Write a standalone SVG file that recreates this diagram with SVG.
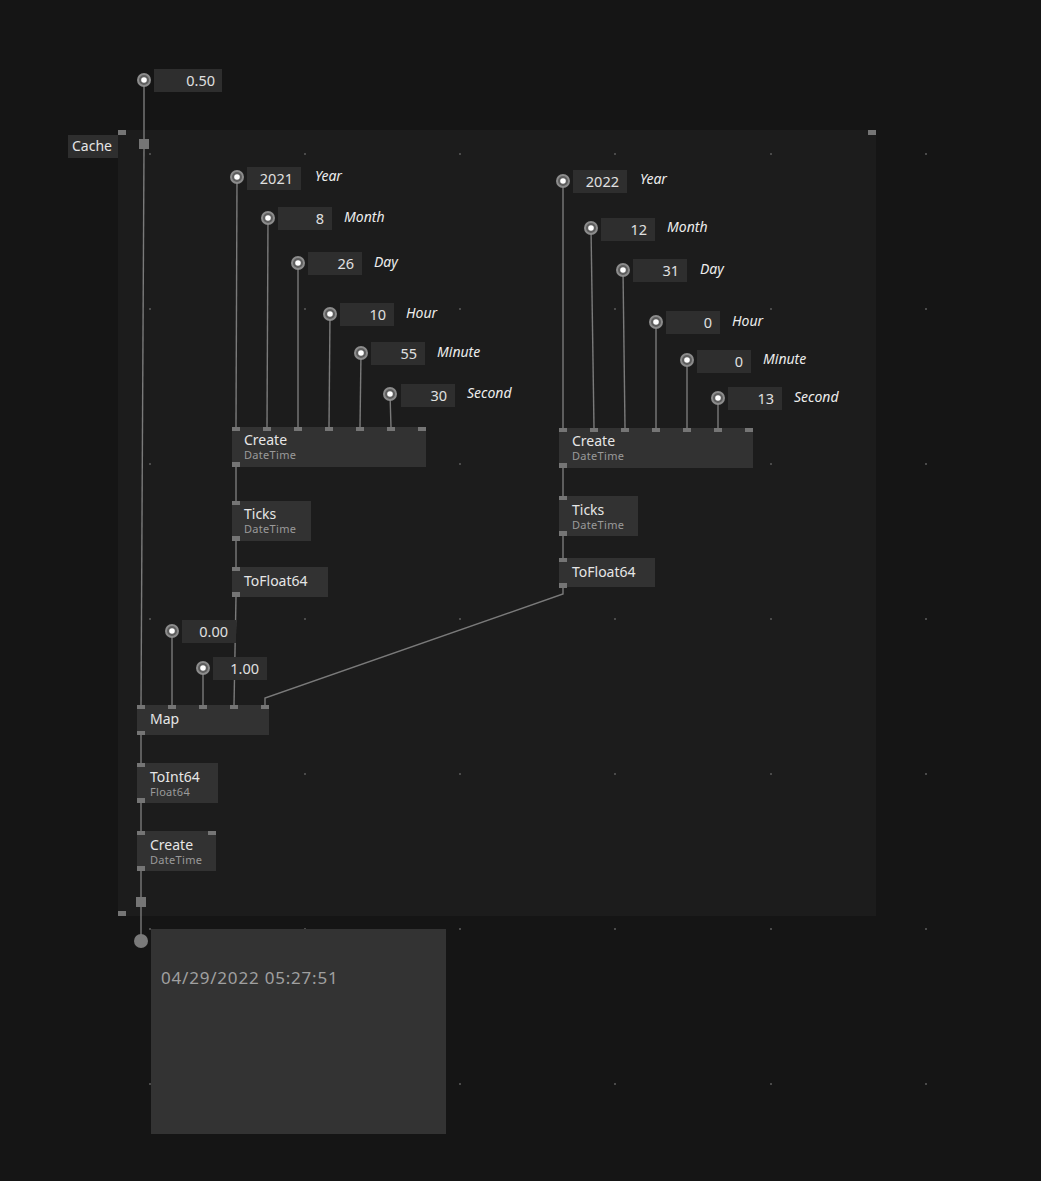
<svg xmlns="http://www.w3.org/2000/svg" width="1041" height="1181" viewBox="0 0 1041 1181">
<style>
.bg{fill:#151515}
.region{fill:#1c1c1c}
.dot{fill:#4a4a4a}
.node{fill:#323232}
.iob{fill:#2e2e2e}
.pin{fill:#757575}
.wire{fill:none;stroke:#7a7a7a;stroke-width:1.4}
.t{font-family:"Noto Sans","DejaVu Sans",sans-serif;font-size:14px;fill:#e6e6e6}
.sub{font-family:"Noto Sans","DejaVu Sans",sans-serif;font-size:11px;fill:#9a9a9a;letter-spacing:0.3px}
.val{font-family:"Noto Sans","DejaVu Sans",sans-serif;font-size:14.5px;fill:#e0e0e0;text-anchor:end}
.lbl{font-family:"Noto Sans","DejaVu Sans",sans-serif;font-size:14px;font-style:italic;fill:#ececec}
.out{font-family:"Noto Sans","DejaVu Sans",sans-serif;font-size:17px;fill:#a0a0a0;letter-spacing:0.8px}
.ring{fill:#5e5e5e;stroke:#8c8c8c;stroke-width:2}
.core{fill:#ffffff}
</style>
<defs>
<g id="cpin"><circle r="6" class="ring"/><circle r="2.8" class="core"/></g>
</defs>
<rect class="bg" x="0" y="0" width="1041" height="1181"/>
<g id="cache-region">
<rect class="region" x="118" y="130" width="758" height="786"/>
<rect class="pin" x="118" y="130" width="8" height="5"/>
<rect class="pin" x="868" y="130" width="8" height="5"/>
<rect class="pin" x="118" y="911" width="8" height="5"/>
</g>
<g id="grid">
<rect class="dot" x="149" y="153" width="2" height="2"/><rect class="dot" x="304" y="153" width="2" height="2"/><rect class="dot" x="459" y="153" width="2" height="2"/><rect class="dot" x="614" y="153" width="2" height="2"/><rect class="dot" x="770" y="153" width="2" height="2"/><rect class="dot" x="925" y="153" width="2" height="2"/>
<rect class="dot" x="149" y="308" width="2" height="2"/><rect class="dot" x="304" y="308" width="2" height="2"/><rect class="dot" x="459" y="308" width="2" height="2"/><rect class="dot" x="614" y="308" width="2" height="2"/><rect class="dot" x="770" y="308" width="2" height="2"/><rect class="dot" x="925" y="308" width="2" height="2"/>
<rect class="dot" x="149" y="463" width="2" height="2"/><rect class="dot" x="304" y="463" width="2" height="2"/><rect class="dot" x="459" y="463" width="2" height="2"/><rect class="dot" x="614" y="463" width="2" height="2"/><rect class="dot" x="770" y="463" width="2" height="2"/><rect class="dot" x="925" y="463" width="2" height="2"/>
<rect class="dot" x="149" y="618" width="2" height="2"/><rect class="dot" x="304" y="618" width="2" height="2"/><rect class="dot" x="459" y="618" width="2" height="2"/><rect class="dot" x="614" y="618" width="2" height="2"/><rect class="dot" x="770" y="618" width="2" height="2"/><rect class="dot" x="925" y="618" width="2" height="2"/>
<rect class="dot" x="149" y="773" width="2" height="2"/><rect class="dot" x="304" y="773" width="2" height="2"/><rect class="dot" x="459" y="773" width="2" height="2"/><rect class="dot" x="614" y="773" width="2" height="2"/><rect class="dot" x="770" y="773" width="2" height="2"/><rect class="dot" x="925" y="773" width="2" height="2"/>
<rect class="dot" x="149" y="928" width="2" height="2"/><rect class="dot" x="304" y="928" width="2" height="2"/><rect class="dot" x="459" y="928" width="2" height="2"/><rect class="dot" x="614" y="928" width="2" height="2"/><rect class="dot" x="770" y="928" width="2" height="2"/><rect class="dot" x="925" y="928" width="2" height="2"/>
<rect class="dot" x="149" y="1083" width="2" height="2"/><rect class="dot" x="304" y="1083" width="2" height="2"/><rect class="dot" x="459" y="1083" width="2" height="2"/><rect class="dot" x="614" y="1083" width="2" height="2"/><rect class="dot" x="770" y="1083" width="2" height="2"/><rect class="dot" x="925" y="1083" width="2" height="2"/>
</g>
<g id="connectors">
<path class="wire" d="M144,80 L144,139"/>
<path class="wire" d="M144,149 L141,705"/>
<path class="wire" d="M237,177 L236,427"/>
<path class="wire" d="M268,218 L267,427"/>
<path class="wire" d="M298,263 L298,427"/>
<path class="wire" d="M330,314 L329,427"/>
<path class="wire" d="M361,353 L360,427"/>
<path class="wire" d="M390,394 L391,427"/>
<path class="wire" d="M236,467 L236,501"/>
<path class="wire" d="M236,541 L236,567"/>
<path class="wire" d="M236,597 L234,705"/>
<path class="wire" d="M563,181 L563,428"/>
<path class="wire" d="M591,228 L594,428"/>
<path class="wire" d="M623,270 L625,428"/>
<path class="wire" d="M656,322 L656,428"/>
<path class="wire" d="M687,360 L687,428"/>
<path class="wire" d="M718,398 L718,428"/>
<path class="wire" d="M563,468 L563,496"/>
<path class="wire" d="M563,536 L563,558"/>
<path class="wire" d="M563,587 L563,594 L265,698 L265,705"/>
<path class="wire" d="M172,631 L172,705"/>
<path class="wire" d="M203,668 L203,705"/>
<path class="wire" d="M141,735 L141,763"/>
<path class="wire" d="M141,803 L141,831"/>
<path class="wire" d="M141,871 L141,897"/>
<path class="wire" d="M141,907 L141,941"/>
</g>
<g id="cache-label">
<rect class="iob" x="68" y="135" width="50" height="23"/>
<text class="t" x="72" y="151">Cache</text>
<rect class="pin" x="139" y="139" width="10" height="10"/>
</g>
<g id="iobox-050">
<rect class="iob" x="154" y="69" width="68" height="23"/>
<text class="val" x="215" y="86">0.50</text>
<use href="#cpin" x="144" y="80"/>
</g>
<g id="iobox-year1"><rect class="iob" x="247" y="167" width="54" height="23"/><text class="val" x="293" y="184">2021</text><use href="#cpin" x="237" y="177"/><text class="lbl" x="315" y="181">Year</text></g>
<g id="iobox-month1"><rect class="iob" x="278" y="207" width="54" height="23"/><text class="val" x="324" y="224">8</text><use href="#cpin" x="268" y="218"/><text class="lbl" x="344" y="222">Month</text></g>
<g id="iobox-day1"><rect class="iob" x="308" y="252" width="54" height="23"/><text class="val" x="354" y="269">26</text><use href="#cpin" x="298" y="263"/><text class="lbl" x="374" y="267">Day</text></g>
<g id="iobox-hour1"><rect class="iob" x="340" y="303" width="54" height="23"/><text class="val" x="386" y="320">10</text><use href="#cpin" x="330" y="314"/><text class="lbl" x="406" y="318">Hour</text></g>
<g id="iobox-minute1"><rect class="iob" x="371" y="342" width="54" height="23"/><text class="val" x="417" y="359">55</text><use href="#cpin" x="361" y="353"/><text class="lbl" x="437" y="357">Minute</text></g>
<g id="iobox-second1"><rect class="iob" x="401" y="384" width="54" height="23"/><text class="val" x="447" y="401">30</text><use href="#cpin" x="390" y="394"/><text class="lbl" x="467" y="398">Second</text></g>
<g id="iobox-year2"><rect class="iob" x="573" y="170" width="54" height="23"/><text class="val" x="619" y="187">2022</text><use href="#cpin" x="563" y="181"/><text class="lbl" x="640" y="184">Year</text></g>
<g id="iobox-month2"><rect class="iob" x="601" y="218" width="54" height="23"/><text class="val" x="647" y="235">12</text><use href="#cpin" x="591" y="228"/><text class="lbl" x="667" y="232">Month</text></g>
<g id="iobox-day2"><rect class="iob" x="633" y="259" width="54" height="23"/><text class="val" x="679" y="276">31</text><use href="#cpin" x="623" y="270"/><text class="lbl" x="700" y="274">Day</text></g>
<g id="iobox-hour2"><rect class="iob" x="666" y="311" width="54" height="23"/><text class="val" x="712" y="328">0</text><use href="#cpin" x="656" y="322"/><text class="lbl" x="732" y="326">Hour</text></g>
<g id="iobox-minute2"><rect class="iob" x="697" y="350" width="54" height="23"/><text class="val" x="743" y="367">0</text><use href="#cpin" x="687" y="360"/><text class="lbl" x="763" y="364">Minute</text></g>
<g id="iobox-second2"><rect class="iob" x="728" y="387" width="54" height="23"/><text class="val" x="774" y="404">13</text><use href="#cpin" x="718" y="398"/><text class="lbl" x="794" y="402">Second</text></g>
<g id="create1">
<rect class="node" x="232" y="427" width="194" height="40"/>
<rect class="pin" x="232" y="427" width="8" height="4"/><rect class="pin" x="263" y="427" width="8" height="4"/><rect class="pin" x="294" y="427" width="8" height="4"/><rect class="pin" x="325" y="427" width="8" height="4"/><rect class="pin" x="356" y="427" width="8" height="4"/><rect class="pin" x="387" y="427" width="8" height="4"/><rect class="pin" x="418" y="427" width="8" height="4"/>
<rect class="pin" x="232" y="462" width="8" height="5"/>
<text class="t" x="244" y="445">Create</text><text class="sub" x="244" y="459">DateTime</text>
</g>
<g id="ticks1">
<rect class="node" x="232" y="501" width="79" height="40"/>
<rect class="pin" x="232" y="501" width="8" height="4"/><rect class="pin" x="232" y="536" width="8" height="5"/>
<text class="t" x="244" y="519">Ticks</text><text class="sub" x="244" y="533">DateTime</text>
</g>
<g id="tofloat1">
<rect class="node" x="232" y="567" width="96" height="30"/>
<rect class="pin" x="232" y="567" width="8" height="4"/><rect class="pin" x="232" y="592" width="8" height="5"/>
<text class="t" x="244" y="586">ToFloat64</text>
</g>
<g id="create2">
<rect class="node" x="559" y="428" width="194" height="40"/>
<rect class="pin" x="559" y="428" width="8" height="4"/><rect class="pin" x="590" y="428" width="8" height="4"/><rect class="pin" x="621" y="428" width="8" height="4"/><rect class="pin" x="652" y="428" width="8" height="4"/><rect class="pin" x="683" y="428" width="8" height="4"/><rect class="pin" x="714" y="428" width="8" height="4"/><rect class="pin" x="745" y="428" width="8" height="4"/>
<rect class="pin" x="559" y="463" width="8" height="5"/>
<text class="t" x="572" y="446">Create</text><text class="sub" x="572" y="460">DateTime</text>
</g>
<g id="ticks2">
<rect class="node" x="559" y="496" width="79" height="40"/>
<rect class="pin" x="559" y="496" width="8" height="4"/><rect class="pin" x="559" y="531" width="8" height="5"/>
<text class="t" x="572" y="515">Ticks</text><text class="sub" x="572" y="529">DateTime</text>
</g>
<g id="tofloat2">
<rect class="node" x="559" y="558" width="96" height="29"/>
<rect class="pin" x="559" y="558" width="8" height="4"/><rect class="pin" x="559" y="583" width="8" height="5"/>
<text class="t" x="572" y="577">ToFloat64</text>
</g>
<g id="iobox-000"><rect class="iob" x="182" y="620" width="54" height="23"/><text class="val" x="228" y="637">0.00</text><use href="#cpin" x="172" y="631"/></g>
<g id="iobox-100"><rect class="iob" x="213" y="657" width="54" height="23"/><text class="val" x="259" y="674">1.00</text><use href="#cpin" x="203" y="668"/></g>
<g id="map">
<rect class="node" x="137" y="705" width="132" height="30"/>
<rect class="pin" x="137" y="705" width="8" height="4"/><rect class="pin" x="168" y="705" width="8" height="4"/><rect class="pin" x="199" y="705" width="8" height="4"/><rect class="pin" x="230" y="705" width="8" height="4"/><rect class="pin" x="261" y="705" width="8" height="4"/>
<rect class="pin" x="137" y="731" width="8" height="4"/>
<text class="t" x="150" y="724">Map</text>
</g>
<g id="toint64">
<rect class="node" x="137" y="763" width="81" height="40"/>
<rect class="pin" x="137" y="763" width="8" height="4"/><rect class="pin" x="137" y="798" width="8" height="5"/>
<text class="t" x="150" y="782">ToInt64</text><text class="sub" x="150" y="796">Float64</text>
</g>
<g id="create3">
<rect class="node" x="137" y="831" width="79" height="40"/>
<rect class="pin" x="137" y="831" width="8" height="4"/><rect class="pin" x="208" y="831" width="8" height="4"/><rect class="pin" x="137" y="866" width="8" height="5"/>
<text class="t" x="150" y="850">Create</text><text class="sub" x="150" y="864">DateTime</text>
</g>
<g id="cache-out">
<rect class="pin" x="136" y="897" width="10" height="10"/>
</g>
<g id="output-panel">
<circle cx="141" cy="941" r="7" fill="#7a7a7a"/>
<rect x="151" y="929" width="295" height="205" fill="#333333"/>
<text class="out" x="161" y="984">04/29/2022 05:27:51</text>
</g>
</svg>
